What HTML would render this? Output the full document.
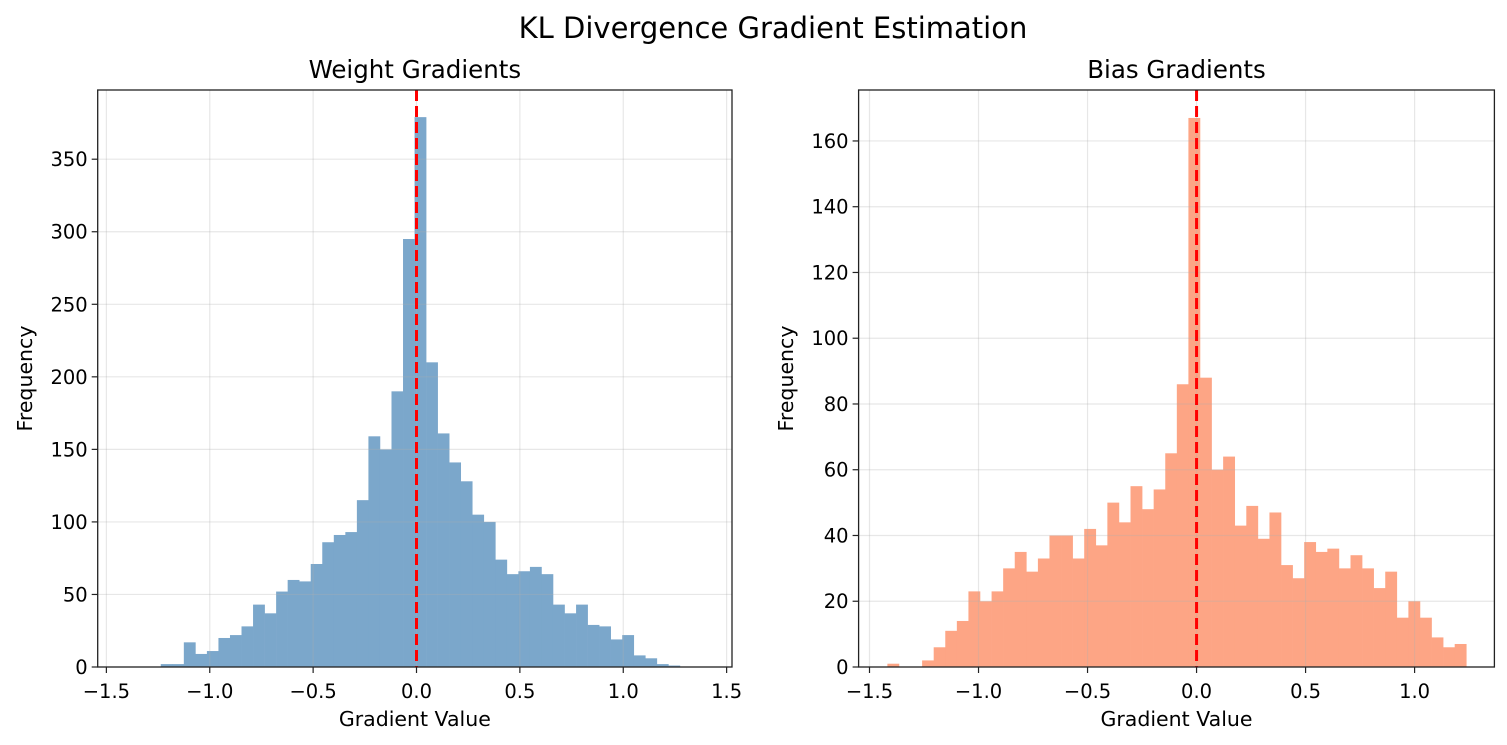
<!DOCTYPE html>
<html><head><meta charset="utf-8"><style>
html,body{margin:0;padding:0;background:#fff;}
svg{display:block;font-family:"DejaVu Sans","Liberation Sans",sans-serif;}
</style></head><body>
<svg id="fig" width="1507" height="745" viewBox="0 0 1507 745" xmlns="http://www.w3.org/2000/svg">
<text x="773" y="38" font-size="29" text-anchor="middle" fill="#000">KL Divergence Gradient Estimation</text>
</svg>
<script>
const weightCounts = [2,2,17,9,11,20,22,28,43,37,52,60,59,71,86,91,93,115,159,150,190,295,379,210,161,141,128,105,100,74,64,66,69,64,43,37,43,29,28,19,22,8,6,2,1];
const weightBinStart = -1.237;
const weightBinWidth = 0.0558;
const biasCounts = [1,0,0,2,6,11,14,23,20,23,30,35,29,33,40,40,33,42,37,50,44,55,48,54,65,86,167,88,60,64,43,49,39,47,31,27,38,35,36,30,34,30,24,29,15,20,15,9,6,7];
const biasBinStart = -1.418;
const biasBinWidth = 0.0531;
const xTicks = [-1.5,-1.0,-0.5,0.0,0.5,1.0,1.5];
const xTickLabels = ["\u22121.5","\u22121.0","\u22120.5","0.0","0.5","1.0","1.5"];
const weightYTicks = [0,50,100,150,200,250,300,350];
const biasYTicks = [0,20,40,60,80,100,120,140,160];

const NS="http://www.w3.org/2000/svg";
const svg=document.getElementById('fig');
function mk(tag,attrs,parent){const e=document.createElementNS(NS,tag);for(const k in attrs)e.setAttribute(k,attrs[k]);(parent||svg).appendChild(e);return e;}

function panel(cfg){
  const g=mk('g',{});
  
  
  const L=cfg.left,R=cfg.right,T=90,B=667;
  const xs=v=>L+(v-cfg.xmin)/(cfg.xmax-cfg.xmin)*(R-L);
  const ys=v=>B-(v-0)/(cfg.ymax)*(B-T);
  cfg.counts.forEach((c,i)=>{
    if(c<=0)return;
    const x0=xs(cfg.start+i*cfg.width),x1=xs(cfg.start+(i+1)*cfg.width);
    const r=mk('rect',{x:x0,y:ys(c),width:x1-x0+0.3,height:B-ys(c),fill:cfg.color},g);
    
    
  });
  xTicks.forEach(t=>{const x=xs(t);if(x<L||x>R)return;
    const l=mk('line',{x1:x,x2:x,y1:T,y2:B,stroke:'#b0b0b0','stroke-opacity':0.3,'stroke-width':1.2},g);
    
    
  });
  cfg.yticks.forEach(t=>{const y=ys(t);
    const l=mk('line',{x1:L,x2:R,y1:y,y2:y,stroke:'#b0b0b0','stroke-opacity':0.3,'stroke-width':1.2},g);
    
    
  });
  const zl=mk('line',{x1:xs(0),x2:xs(0),y1:T,y2:B,stroke:'#ff0000','stroke-width':3,'stroke-dasharray':'11,5'},g);
  
  
  const fr=mk('rect',{x:L,y:T,width:R-L,height:B-T,fill:'none',stroke:'#222','stroke-width':1.3},g);
  
  
  xTicks.forEach((t,i)=>{const x=xs(t);if(x<L-0.5||x>R+0.5)return;
    mk('line',{x1:x,x2:x,y1:B,y2:B+6,stroke:'#222','stroke-width':1.2},g);
    const tx=mk('text',{x:x,y:698,'font-size':19.5,'text-anchor':'middle',fill:'#000'},g);
    tx.textContent=xTickLabels[i];
    
    
  });
  cfg.yticks.forEach(t=>{const y=ys(t);
    mk('line',{x1:L-6,x2:L,y1:y,y2:y,stroke:'#222','stroke-width':1.2},g);
    const tx=mk('text',{x:L-10,y:y+7,'font-size':19.5,'text-anchor':'end',fill:'#000'},g);
    tx.textContent=String(t);
    
    
  });
  const ti=mk('text',{x:(L+R)/2,y:78,'font-size':24.5,'text-anchor':'middle',fill:'#000'},g);
  ti.textContent=cfg.title;
  
  
  const xl=mk('text',{x:(L+R)/2,y:726,'font-size':20.5,'text-anchor':'middle',fill:'#000'},g);
  xl.textContent='Gradient Value';
  
  
  const yx=cfg.ylabelX,yy=(T+B)/2;
  const yl=mk('text',{x:yx,y:yy,'font-size':20.5,'text-anchor':'middle',fill:'#000',transform:`rotate(-90 ${yx} ${yy})`},g);
  yl.textContent='Frequency';
  
  
}
panel({name:'weight-gradients-panel',title:'Weight Gradients',left:97.7,right:732,xmin:-1.542,xmax:1.526,ymax:397.7,
  counts:weightCounts,start:weightBinStart,width:weightBinWidth,color:'#7ba7cb',yticks:weightYTicks,ylabelX:32});
panel({name:'bias-gradients-panel',title:'Bias Gradients',left:858.6,right:1494.4,xmin:-1.550,xmax:1.366,ymax:175.5,
  counts:biasCounts,start:biasBinStart,width:biasBinWidth,color:'#fda585',yticks:biasYTicks,ylabelX:793});
</script>
</body></html>
